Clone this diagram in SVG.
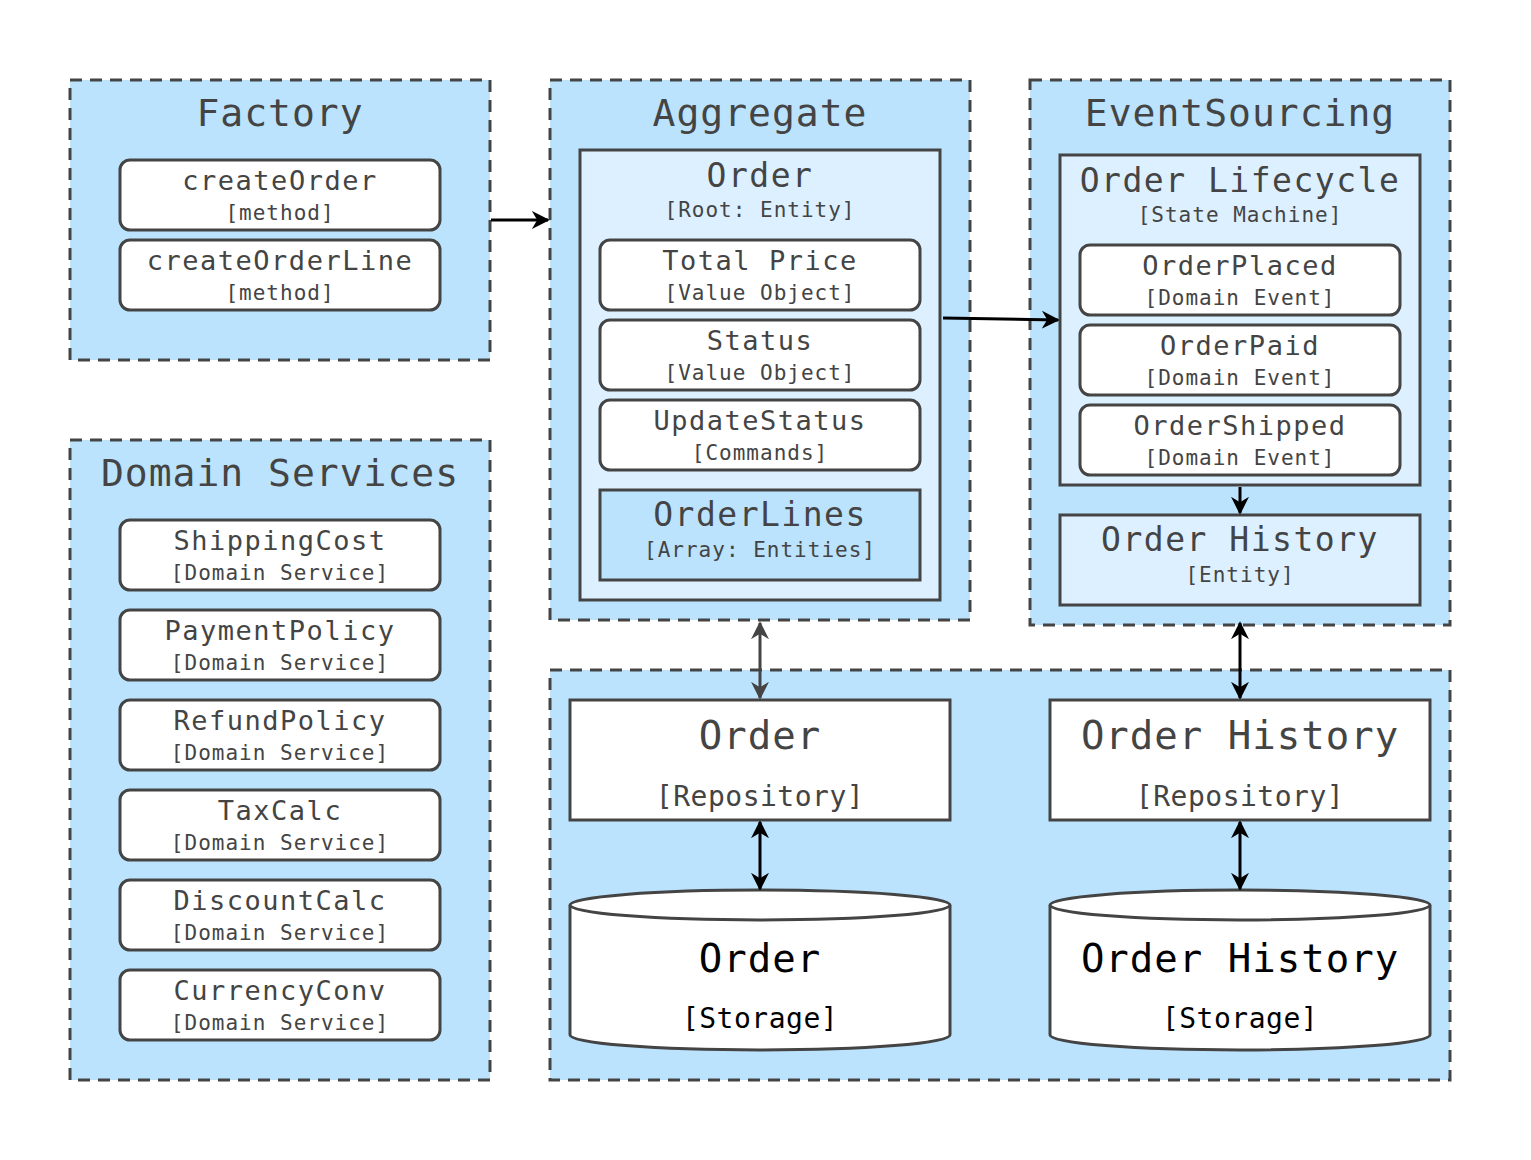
<svg xmlns="http://www.w3.org/2000/svg" width="1531" height="1160" viewBox="0 0 1531 1160">
<defs>
<style>
text{font-family:"DejaVu Sans Mono","Liberation Mono",monospace;fill:#444;text-anchor:middle}
.cl{fill:#bbe3fd;stroke:#444;stroke-width:3;stroke-dasharray:12 8}
.n{fill:#fff;stroke:#444;stroke-width:3}
.in{fill:#ddf0ff;stroke:#444;stroke-width:3}
.ct{font-size:38px;letter-spacing:1px}
.nt{font-size:27px;letter-spacing:1.5px}
.st{font-size:21px;letter-spacing:1px}
.e{stroke:#000;stroke-width:3;fill:none}
.g{stroke:#444;stroke-width:3;fill:none}
</style>
<marker id="a" viewBox="0 0 10 10" refX="9" refY="5" markerWidth="6" markerHeight="6" orient="auto-start-reverse"><path d="M0,0L10,5L0,10L3,5z" fill="#000"/></marker>
<marker id="ag" viewBox="0 0 10 10" refX="9" refY="5" markerWidth="6" markerHeight="6" orient="auto-start-reverse"><path d="M0,0L10,5L0,10L3,5z" fill="#444"/></marker>
</defs>
<rect width="1531" height="1160" fill="#fff"/>
<g id="factory"><rect class="cl" x="70" y="80" width="420" height="280"/><text class="ct" x="280" y="126">Factory</text>
<g id="createOrder"><rect class="n" x="120" y="160" width="320" height="70" rx="10"/><text class="nt" x="280" y="190">createOrder</text><text class="st" x="280" y="220">[method]</text></g>
<g id="createOrderLine"><rect class="n" x="120" y="240" width="320" height="70" rx="10"/><text class="nt" x="280" y="270">createOrderLine</text><text class="st" x="280" y="300">[method]</text></g></g>
<g id="aggregate"><rect class="cl" x="550" y="80" width="420" height="540"/><text class="ct" x="760" y="126">Aggregate</text>
<g id="order"><rect class="in" x="580" y="150" width="360" height="450"/><text class="nt" x="760" y="187" style="font-size:33px">Order</text><text class="st" x="760" y="217">[Root: Entity]</text>
<g id="totalprice"><rect class="n" x="600" y="240" width="320" height="70" rx="10"/><text class="nt" x="760" y="270">Total Price</text><text class="st" x="760" y="300">[Value Object]</text></g>
<g id="status"><rect class="n" x="600" y="320" width="320" height="70" rx="10"/><text class="nt" x="760" y="350">Status</text><text class="st" x="760" y="380">[Value Object]</text></g>
<g id="updatestatus"><rect class="n" x="600" y="400" width="320" height="70" rx="10"/><text class="nt" x="760" y="430">UpdateStatus</text><text class="st" x="760" y="460">[Commands]</text></g>
<g id="orderlines"><rect class="cl" style="stroke-dasharray:none" x="600" y="490" width="320" height="90"/><text class="nt" x="760" y="526" style="font-size:33px">OrderLines</text><text class="st" x="760" y="557">[Array: Entities]</text></g></g></g>
<g id="eventsourcing"><rect class="cl" x="1030" y="80" width="420" height="545"/><text class="ct" x="1240" y="126">EventSourcing</text>
<g id="lifecycle"><rect class="in" x="1060" y="155" width="360" height="330"/><text class="nt" x="1240" y="192" style="font-size:33px">Order Lifecycle</text><text class="st" x="1240" y="222">[State Machine]</text>
<g id="placed"><rect class="n" x="1080" y="245" width="320" height="70" rx="10"/><text class="nt" x="1240" y="275">OrderPlaced</text><text class="st" x="1240" y="305">[Domain Event]</text></g>
<g id="paid"><rect class="n" x="1080" y="325" width="320" height="70" rx="10"/><text class="nt" x="1240" y="355">OrderPaid</text><text class="st" x="1240" y="385">[Domain Event]</text></g>
<g id="shipped"><rect class="n" x="1080" y="405" width="320" height="70" rx="10"/><text class="nt" x="1240" y="435">OrderShipped</text><text class="st" x="1240" y="465">[Domain Event]</text></g></g>
<g id="history"><rect class="in" x="1060" y="515" width="360" height="90"/><text class="nt" x="1240" y="551" style="font-size:33px">Order History</text><text class="st" x="1240" y="582">[Entity]</text></g></g>
<g id="services"><rect class="cl" x="70" y="440" width="420" height="640"/><text class="ct" x="280" y="486">Domain Services</text>
<g id="s1"><rect class="n" x="120" y="520" width="320" height="70" rx="10"/><text class="nt" x="280" y="550">ShippingCost</text><text class="st" x="280" y="580">[Domain Service]</text></g>
<g id="s2"><rect class="n" x="120" y="610" width="320" height="70" rx="10"/><text class="nt" x="280" y="640">PaymentPolicy</text><text class="st" x="280" y="670">[Domain Service]</text></g>
<g id="s3"><rect class="n" x="120" y="700" width="320" height="70" rx="10"/><text class="nt" x="280" y="730">RefundPolicy</text><text class="st" x="280" y="760">[Domain Service]</text></g>
<g id="s4"><rect class="n" x="120" y="790" width="320" height="70" rx="10"/><text class="nt" x="280" y="820">TaxCalc</text><text class="st" x="280" y="850">[Domain Service]</text></g>
<g id="s5"><rect class="n" x="120" y="880" width="320" height="70" rx="10"/><text class="nt" x="280" y="910">DiscountCalc</text><text class="st" x="280" y="940">[Domain Service]</text></g>
<g id="s6"><rect class="n" x="120" y="970" width="320" height="70" rx="10"/><text class="nt" x="280" y="1000">CurrencyConv</text><text class="st" x="280" y="1030">[Domain Service]</text></g></g>
<g id="persistence"><rect class="cl" x="550" y="670" width="900" height="410"/>
<g id="orderrepo"><rect class="n" x="570" y="700" width="380" height="120"/><text x="760" y="749" style="font-size:39px;letter-spacing:1px">Order</text><text x="760" y="806" style="font-size:28px;letter-spacing:0.5px">[Repository]</text></g>
<g id="historyrepo"><rect class="n" x="1050" y="700" width="380" height="120"/><text x="1240" y="749" style="font-size:39px;letter-spacing:1px">Order History</text><text x="1240" y="806" style="font-size:28px;letter-spacing:0.5px">[Repository]</text></g>
<g id="orderdb"><path class="n" d="M570,905 A190,15 0 0 1 950,905 V1035 A190,15 0 0 1 570,1035 Z"/><path class="n" d="M570,905 A190,15 0 0 0 950,905"/><text x="760" y="972" style="font-size:39px;letter-spacing:1px;fill:#000">Order</text><text x="760" y="1028" style="font-size:28px;letter-spacing:0.5px;fill:#000">[Storage]</text></g>
<g id="historydb"><path class="n" d="M1050,905 A190,15 0 0 1 1430,905 V1035 A190,15 0 0 1 1050,1035 Z"/><path class="n" d="M1050,905 A190,15 0 0 0 1430,905"/><text x="1240" y="972" style="font-size:39px;letter-spacing:1px;fill:#000">Order History</text><text x="1240" y="1028" style="font-size:28px;letter-spacing:0.5px;fill:#000">[Storage]</text></g></g>
<g id="connectors">
<line class="e" x1="491" y1="220" x2="548" y2="220" marker-end="url(#a)"/>
<line class="e" x1="943" y1="318" x2="1058" y2="320" marker-end="url(#a)"/>
<line class="e" x1="1240" y1="487" x2="1240" y2="513" marker-end="url(#a)"/>
<line class="g" x1="760" y1="623" x2="760" y2="698" marker-start="url(#ag)" marker-end="url(#ag)"/>
<line class="e" x1="1240" y1="623" x2="1240" y2="698" marker-start="url(#a)" marker-end="url(#a)"/>
<line class="e" x1="760" y1="822" x2="760" y2="889" marker-start="url(#a)" marker-end="url(#a)"/>
<line class="e" x1="1240" y1="822" x2="1240" y2="889" marker-start="url(#a)" marker-end="url(#a)"/>
</g>
</svg>
